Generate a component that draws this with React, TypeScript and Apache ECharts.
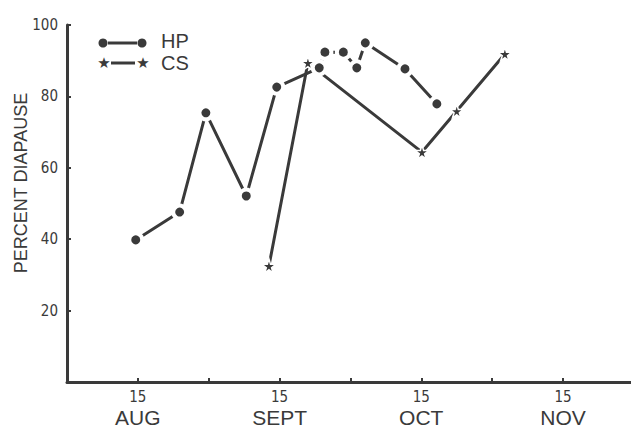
import React, { useEffect, useRef } from "react";
import * as echarts from "echarts";

// x positions in half-month units from 1 Aug (1 = 15 Aug, 3 = 15 Sept, 5 = 15 Oct, 7 = 15 Nov)
const hpX = [0.97, 1.59, 1.96, 2.53, 2.96, 3.56, 3.64, 3.9, 4.09, 4.21, 4.77, 5.22];
const hpY = [39.8, 47.6, 75.4, 52.1, 82.6, 88.0, 92.4, 92.4, 88.0, 95.0, 87.7, 77.9];
const csX = [2.85, 3.4, 5.01, 5.5, 6.18];
const csY = [32.5, 89.4, 64.4, 75.9, 91.9];

const xTickLabels: Record<number, string> = { 1: "AUG", 3: "SEPT", 5: "OCT", 7: "NOV" };
const dayLabel = "15";
const yTicks = [20, 40, 60, 80, 100];

const INK = "#3a3a3a";
const STAR = "path://M50,0 L61,35 L98,35 L68,57 L79,91 L50,70 L21,91 L32,57 L2,35 L39,35 Z";
const NARROW = "'Liberation Sans Narrow', 'DejaVu Sans Condensed', 'Liberation Sans', sans-serif";
const SANS = "'Liberation Sans', Arial, sans-serif";

export default function App() {
  const ref = useRef<HTMLDivElement>(null);
  useEffect(() => {
    if (!ref.current) return;
    const chart = echarts.init(ref.current, undefined, { renderer: "svg" });
    const hpData = hpX.map((x, i) => [x, hpY[i]]);
    const csData = csX.map((x, i) => [x, csY[i]]);
    chart.setOption({
      animation: false,
      backgroundColor: "#ffffff",
      grid: { left: 67, right: 0, top: 25, bottom: 46 },
      xAxis: {
        type: "value",
        min: 0,
        max: 7.96,
        interval: 1,
        splitLine: { show: false },
        axisLine: { show: true, lineStyle: { color: INK, width: 3 } },
        axisTick: { show: true, inside: true, length: 4, lineStyle: { color: INK, width: 2 } },
        axisLabel: {
          margin: 5,
          showMaxLabel: false,
          formatter: (v: number) => {
            const m = xTickLabels[Math.round(v)];
            return m ? `{d|${dayLabel}}\n{m|${m}}` : "";
          },
          rich: {
            d: { fontFamily: NARROW, fontSize: 15, color: INK, lineHeight: 19, align: "center" },
            m: { fontFamily: SANS, fontSize: 21, color: INK, lineHeight: 23, align: "center" },
          },
        },
      },
      yAxis: {
        type: "value",
        min: 0,
        max: 100,
        interval: 20,
        splitLine: { show: false },
        axisLine: { show: true, lineStyle: { color: INK, width: 3 } },
        axisTick: { show: true, inside: true, length: 4, lineStyle: { color: INK, width: 2 } },
        axisLabel: {
          margin: 9,
          fontFamily: NARROW,
          fontSize: 15,
          color: INK,
          padding: [0, 0, 12, 0],
          formatter: (v: number) => (yTicks.includes(v) ? String(v) : ""),
        },
      },
      graphic: [
        { type: "line", shape: { x1: 108, y1: 43, x2: 137, y2: 43 }, style: { stroke: INK, lineWidth: 3 } },
        { type: "circle", shape: { cx: 103, cy: 43, r: 4.5 }, style: { fill: INK } },
        { type: "circle", shape: { cx: 142, cy: 43, r: 4.5 }, style: { fill: INK } },
        { type: "text", x: 161, y: 41, style: { text: "HP", fontSize: 20, fontFamily: SANS, fill: INK, verticalAlign: "middle" } },
        { type: "line", shape: { x1: 111, y1: 63, x2: 135, y2: 63 }, style: { stroke: INK, lineWidth: 3 } },
        { type: "text", x: 104, y: 63, style: { text: "★", fontSize: 15, fontFamily: "'DejaVu Sans', sans-serif", fill: INK, align: "center", verticalAlign: "middle" } },
        { type: "text", x: 143, y: 63, style: { text: "★", fontSize: 15, fontFamily: "'DejaVu Sans', sans-serif", fill: INK, align: "center", verticalAlign: "middle" } },
        { type: "text", x: 161, y: 63, style: { text: "CS", fontSize: 20, fontFamily: SANS, fill: INK, verticalAlign: "middle" } },
        {
          type: "text",
          x: 21,
          y: 183,
          rotation: Math.PI / 2,
          style: { text: "PERCENT DIAPAUSE", fontSize: 18, fontFamily: SANS, fill: INK, align: "center", verticalAlign: "middle" },
        },
      ],
      series: [
        {
          name: "CS",
          type: "line",
          data: csData,
          symbol: STAR,
          symbolSize: 14,
          lineStyle: { color: INK, width: 3 },
          itemStyle: { color: INK, borderColor: "#ffffff", borderWidth: 1.5 },
          z: 2,
        },
        {
          name: "HP",
          type: "line",
          data: hpData,
          symbol: "circle",
          symbolSize: 13,
          lineStyle: { color: INK, width: 3 },
          itemStyle: { color: INK, borderColor: "#ffffff", borderWidth: 4 },
          z: 3,
        },
      ],
    });
    return () => chart.dispose();
  }, []);
  return <div ref={ref} style={{ position: "fixed", left: 0, top: 0, width: 631, height: 428 }} />;
}
